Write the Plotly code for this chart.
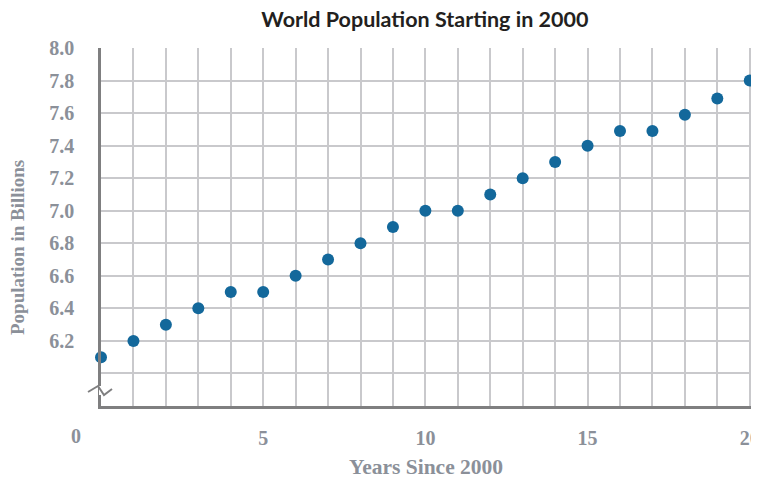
import plotly.graph_objects as go

years = list(range(0, 21))
population = [6.1, 6.2, 6.3, 6.4, 6.5, 6.5, 6.6, 6.7, 6.8, 6.9, 7.0,
              7.0, 7.1, 7.2, 7.3, 7.4, 7.49, 7.49, 7.59, 7.69, 7.8]

x_tick_vals = list(range(0, 21))
x_tick_text = ["" if (v % 5 or v == 0) else str(v) for v in x_tick_vals]
y_tick_vals = [6.0, 6.2, 6.4, 6.6, 6.8, 7.0, 7.2, 7.4, 7.6, 7.8, 8.0]
y_tick_text = ["", "6.2", "6.4", "6.6", "6.8", "7.0", "7.2", "7.4", "7.6", "7.8", "8.0"]

title_text = "World Population Starting in 2000"
x_title = "Years Since 2000"
y_title = "Population in Billions"

tick_font = dict(family="Liberation Serif", size=20, color="#8b9099", weight=700)
grid_color = "#c9c9cc"
axis_color = "#7f7f80"

fig = go.Figure()
fig.add_trace(go.Scatter(
    x=years, y=population, mode="markers",
    marker=dict(size=12, color="#13689b"),
    cliponaxis=False, showlegend=False,
))

OFF = 8  # page body margin
W, H = 759 - OFF, 478 - OFF
L, T = 101 - OFF, 48 - OFF
R = W - (753.25 - OFF)
B = H - (406 - OFF)
pw, ph = W - L - R, H - T - B


def px(xp):
    return (xp - OFF - L) / pw


def py(yp):
    return (H - B - (yp - OFF)) / ph


fig.update_layout(
    width=W, height=H,
    margin=dict(l=L, r=R, t=T, b=B, autoexpand=False),
    paper_bgcolor="white", plot_bgcolor="white",
    title=dict(text=title_text, x=px(425), xref="paper", xanchor="center",
               y=1 - (19 - OFF) / H, yanchor="middle",
               font=dict(family="Lato", size=21.5, color="#231f20", weight=700)),
    xaxis=dict(range=[0, 20.1], tickmode="array", tickvals=x_tick_vals, ticktext=x_tick_text,
               showgrid=True, gridcolor=grid_color, gridwidth=1.5,
               showline=True, linecolor=axis_color, linewidth=2.5,
               zeroline=False, ticks="outside", ticklen=12, tickcolor="rgba(0,0,0,0)",
               tickfont=tick_font, ticklabeloverflow="allow", automargin=False,
               fixedrange=True),
    yaxis=dict(range=[5.8, 8.0], tickmode="array", tickvals=y_tick_vals, ticktext=y_tick_text,
               showgrid=True, gridcolor=grid_color, gridwidth=1.5,
               showline=True, linecolor=axis_color, linewidth=2.5,
               zeroline=False, ticks="outside", ticklen=20, tickcolor="rgba(0,0,0,0)",
               tickfont=tick_font, automargin=False, fixedrange=True),
)

# "0" label sits left of the axis
fig.add_annotation(text="0", x=0, xref="x", xshift=-25, y=py(436), yref="paper",
                   yanchor="middle", showarrow=False, font=tick_font)
fig.add_annotation(text=x_title, x=px(426), xref="paper", y=py(467), yref="paper",
                   xanchor="center", yanchor="middle", showarrow=False,
                   font=dict(family="Liberation Serif", size=21.5, color="#8b9099", weight=700))
fig.add_annotation(text=y_title, x=px(17), xref="paper", y=py(248), yref="paper",
                   xanchor="center", yanchor="middle", textangle=-90, showarrow=False,
                   font=dict(family="Liberation Serif", size=19, color="#8b9099", weight=700))

# axis break symbol
fig.add_shape(type="rect", xref="paper", yref="paper",
              x0=px(99), x1=px(104.5), y0=py(395), y1=py(386),
              fillcolor="white", line=dict(width=0), layer="above")
zig = [(88, 392), (98, 386), (104, 395), (112, 389)]
path = "M " + " L ".join(f"{px(a)},{py(b)}" for a, b in zig)
fig.add_shape(type="path", xref="paper", yref="paper", path=path,
              line=dict(color=axis_color, width=2), layer="above")

fig.write_html("out.html")
